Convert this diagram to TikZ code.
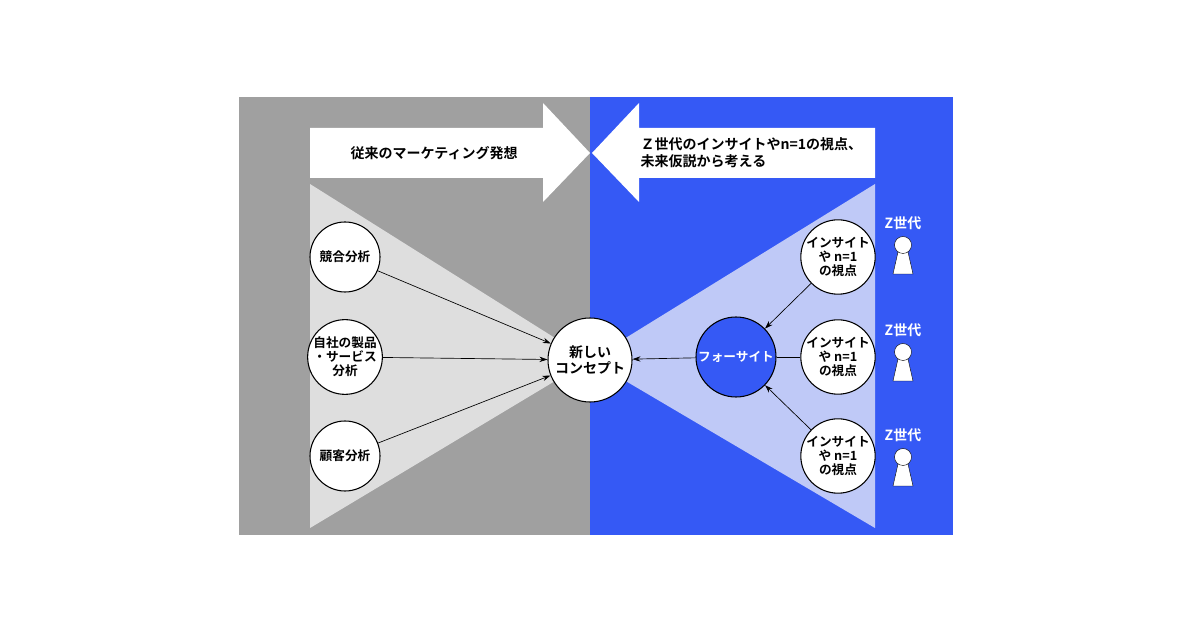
\documentclass[tikz,border=0pt]{standalone}
\usepackage{fontspec}
\setmainfont{Noto Sans CJK JP}[BoldFont={Noto Sans CJK JP Bold}]
\usetikzlibrary{arrows.meta}
\definecolor{gpanel}{HTML}{A0A0A0}
\definecolor{bpanel}{HTML}{3559F5}
\definecolor{ltri}{HTML}{DEDEDE}
\definecolor{btri}{HTML}{BFC9F7}
\begin{document}
\begin{tikzpicture}[x=0.75pt,y=-0.75pt,
 circ/.style={circle,draw=black,line width=0.8pt,fill=white,minimum size=70*0.75pt,inner sep=0pt,align=center,font=\bfseries\fontsize{9.5}{10.5}\selectfont},
 lbl/.style={font=\bfseries\fontsize{10.5}{13}\selectfont,align=left},
 conn/.style={-{Stealth[length=6pt,width=4pt]},line width=0.5pt},
 zl/.style={text=white,font=\bfseries\fontsize{10.5}{12}\selectfont}]
\useasboundingbox (0,0) rectangle (1200,630);
\fill[white] (0,0) rectangle (1200,630);
\fill[gpanel] (239,97) rectangle (590,535);
\fill[bpanel] (590,97) rectangle (953,535);
\fill[ltri] (310,184) -- (590,360) -- (310,528) -- cycle;
\fill[btri] (875,184) -- (590,360) -- (875,528) -- cycle;
% block arrows
\fill[white] (310,128) -- (543,128) -- (543,103) -- (590,153) -- (543,202) -- (543,178) -- (310,178) -- cycle;
\fill[white] (875,128) -- (639,128) -- (639,103) -- (592,153) -- (639,202) -- (639,178) -- (875,178) -- cycle;
\node[lbl,anchor=west] (t1) at (346,153) {従来のマーケティング発想};
\node[lbl,anchor=west] (t2) at (636,153) {Ｚ世代のインサイトやn=1の視点、\\未来仮説から考える};
% nodes
\node[circ,minimum size=84*0.75pt,font=\bfseries\fontsize{10.5}{12.5}\selectfont] (c) at (590,360) {新しい\\コンセプト};
\node[circ] (l1) at (345,257) {競合分析};
\node[circ] (l2) at (345,357) {自社の製品\\・サービス\\分析};
\node[circ] (l3) at (345,456) {顧客分析};
\node[circ,fill=bpanel,text=white,minimum size=80*0.75pt] (f) at (736,357) {フォーサイト};
\node[circ] (r1) at (838,257) {インサイト\\や n=1\\の視点};
\node[circ] (r2) at (838,357) {インサイト\\や n=1\\の視点};
\node[circ] (r3) at (838,456) {インサイト\\や n=1\\の視点};
\draw[conn] (l1) -- (c);
\draw[conn] (l2) -- (c);
\draw[conn] (l3) -- (c);
\draw[conn] (f) -- (c);
\draw[conn] (r1) -- (f);
\draw[line width=0.5pt] (r2) -- (f);
\draw[conn] (r3) -- (f);
\foreach \y/\n in {223/1,330/2,435/3}{
  \node[zl] (z\n) at (903,\y) {Z世代};
  \fill[white,draw=black,line width=0.3pt] (898,\y+29) -- (908,\y+29) -- (913,\y+51) -- (893,\y+51) -- cycle;
  \filldraw[fill=white,draw=black,line width=0.3pt] (903,\y+22) circle (8.5);
}
\end{tikzpicture}
\end{document}
